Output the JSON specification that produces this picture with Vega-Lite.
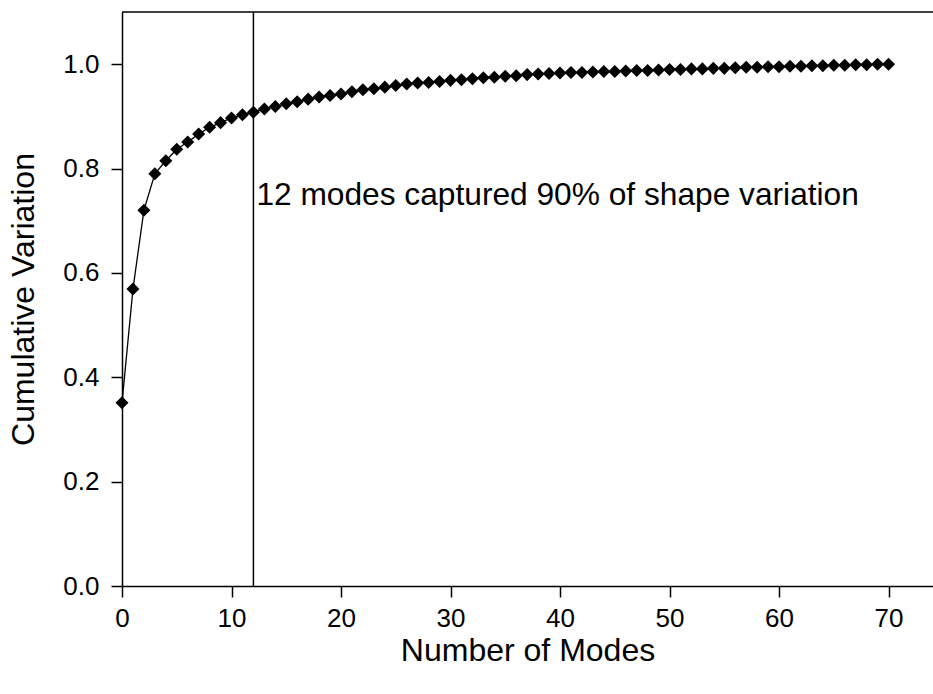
{
  "$schema": "https://vega.github.io/schema/vega-lite/v6.json",
  "autosize": {"type": "none"},
  "padding": {"left": 122, "top": 12, "right": 0, "bottom": 108},
  "width": 811,
  "height": 574,
  "background": "white",
  "config": {
    "font": "Liberation Sans",
    "view": {"stroke": null},
    "axis": {
      "domainColor": "black",
      "domainWidth": 1.5,
      "tickColor": "black",
      "tickWidth": 1.5,
      "tickSize": 11,
      "labelColor": "black",
      "labelFont": "Liberation Sans",
      "labelFontSize": 26,
      "labelFlush": false,
      "labelOverlap": false,
      "titleColor": "black",
      "titleFont": "Liberation Sans",
      "titleFontSize": 32,
      "titleFontWeight": "normal",
      "grid": false
    }
  },
  "datasets": {
    "pca": [
      {"modes": 0, "cumvar": 0.351},
      {"modes": 1, "cumvar": 0.569},
      {"modes": 2, "cumvar": 0.720},
      {"modes": 3, "cumvar": 0.790},
      {"modes": 4, "cumvar": 0.815},
      {"modes": 5, "cumvar": 0.837},
      {"modes": 6, "cumvar": 0.851},
      {"modes": 7, "cumvar": 0.866},
      {"modes": 8, "cumvar": 0.879},
      {"modes": 9, "cumvar": 0.888},
      {"modes": 10, "cumvar": 0.897},
      {"modes": 11, "cumvar": 0.903},
      {"modes": 12, "cumvar": 0.908},
      {"modes": 13, "cumvar": 0.914},
      {"modes": 14, "cumvar": 0.919},
      {"modes": 15, "cumvar": 0.924},
      {"modes": 16, "cumvar": 0.928},
      {"modes": 17, "cumvar": 0.933},
      {"modes": 18, "cumvar": 0.937},
      {"modes": 19, "cumvar": 0.940},
      {"modes": 20, "cumvar": 0.943},
      {"modes": 21, "cumvar": 0.947},
      {"modes": 22, "cumvar": 0.951},
      {"modes": 23, "cumvar": 0.953},
      {"modes": 24, "cumvar": 0.956},
      {"modes": 25, "cumvar": 0.959},
      {"modes": 26, "cumvar": 0.962},
      {"modes": 27, "cumvar": 0.964},
      {"modes": 28, "cumvar": 0.965},
      {"modes": 29, "cumvar": 0.967},
      {"modes": 30, "cumvar": 0.969},
      {"modes": 31, "cumvar": 0.970},
      {"modes": 32, "cumvar": 0.972},
      {"modes": 33, "cumvar": 0.974},
      {"modes": 34, "cumvar": 0.975},
      {"modes": 35, "cumvar": 0.977},
      {"modes": 36, "cumvar": 0.978},
      {"modes": 37, "cumvar": 0.980},
      {"modes": 38, "cumvar": 0.981},
      {"modes": 39, "cumvar": 0.982},
      {"modes": 40, "cumvar": 0.983},
      {"modes": 41, "cumvar": 0.984},
      {"modes": 42, "cumvar": 0.984},
      {"modes": 43, "cumvar": 0.985},
      {"modes": 44, "cumvar": 0.986},
      {"modes": 45, "cumvar": 0.986},
      {"modes": 46, "cumvar": 0.987},
      {"modes": 47, "cumvar": 0.988},
      {"modes": 48, "cumvar": 0.988},
      {"modes": 49, "cumvar": 0.989},
      {"modes": 50, "cumvar": 0.990},
      {"modes": 51, "cumvar": 0.990},
      {"modes": 52, "cumvar": 0.991},
      {"modes": 53, "cumvar": 0.991},
      {"modes": 54, "cumvar": 0.992},
      {"modes": 55, "cumvar": 0.992},
      {"modes": 56, "cumvar": 0.993},
      {"modes": 57, "cumvar": 0.994},
      {"modes": 58, "cumvar": 0.994},
      {"modes": 59, "cumvar": 0.995},
      {"modes": 60, "cumvar": 0.995},
      {"modes": 61, "cumvar": 0.996},
      {"modes": 62, "cumvar": 0.996},
      {"modes": 63, "cumvar": 0.997},
      {"modes": 64, "cumvar": 0.997},
      {"modes": 65, "cumvar": 0.998},
      {"modes": 66, "cumvar": 0.998},
      {"modes": 67, "cumvar": 0.999},
      {"modes": 68, "cumvar": 0.999},
      {"modes": 69, "cumvar": 1.000},
      {"modes": 70, "cumvar": 1.000}
    ],
    "threshold": [
      {"modes": 12, "label": "12 modes captured 90% of shape variation"}
    ]
  },
  "layer": [
    {
      "data": {"name": "pca"},
      "mark": {
        "type": "line",
        "color": "black",
        "strokeWidth": 1.3,
        "point": {"shape": "diamond", "size": 170, "filled": true, "color": "black", "opacity": 1}
      },
      "encoding": {
        "x": {
          "field": "modes",
          "type": "quantitative",
          "scale": {"domain": [0, 74.06], "nice": false, "zero": false},
          "axis": {
            "title": "Number of Modes",
            "values": [0, 10, 20, 30, 40, 50, 60, 70],
            "labelPadding": 8,
            "titlePadding": 4
          }
        },
        "y": {
          "field": "cumvar",
          "type": "quantitative",
          "scale": {"domain": [0, 1.1], "nice": false},
          "axis": {
            "title": "Cumulative Variation",
            "values": [0, 0.2, 0.4, 0.6, 0.8, 1.0],
            "format": ".1f",
            "labelPadding": 12,
            "titlePadding": 22
          }
        }
      }
    },
    {
      "data": {"name": "threshold"},
      "mark": {"type": "rule", "color": "black", "strokeWidth": 1.5},
      "encoding": {
        "x": {"field": "modes", "type": "quantitative"}
      }
    },
    {
      "data": {"name": "threshold"},
      "mark": {"type": "rule", "color": "black", "strokeWidth": 1.5},
      "encoding": {
        "y": {"datum": 1.1, "type": "quantitative"}
      }
    },
    {
      "data": {"name": "threshold"},
      "mark": {"type": "text", "align": "left", "baseline": "alphabetic", "dx": 3, "fontSize": 31.7, "font": "Liberation Sans", "color": "black"},
      "encoding": {
        "x": {"field": "modes", "type": "quantitative"},
        "y": {"datum": 0.731, "type": "quantitative"},
        "text": {"field": "label"}
      }
    }
  ]
}
